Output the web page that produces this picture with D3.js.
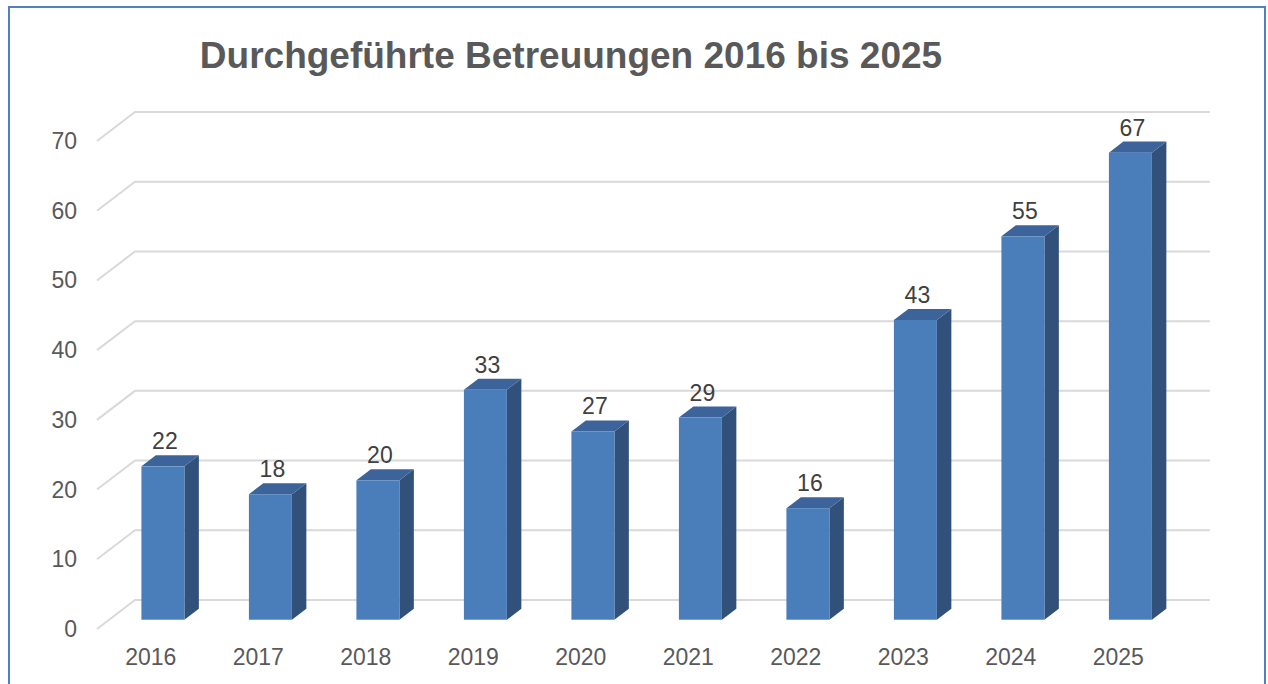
<!DOCTYPE html>
<html>
<head>
<meta charset="utf-8">
<script src="https://cdn.jsdelivr.net/npm/d3@7"></script>
<style>
  body { margin: 0; background: #fff; }
  svg { display: block; font-family: "Liberation Sans", Arial, sans-serif; }
</style>
</head>
<body>
<div id="chart"></div>
<script>
const years = ['2016', '2017', '2018', '2019', '2020', '2021', '2022', '2023', '2024', '2025'];
const betreuungen = [22, 18, 20, 33, 27, 29, 16, 43, 55, 67];
const yTicks = [0, 10, 20, 30, 40, 50, 60, 70];
const title = 'Durchgeführte Betreuungen 2016 bis 2025';

const width = 1268;
const height = 684;

const svg = d3.select('#chart').append('svg')
  .attr('width', width)
  .attr('height', height);

// chart frame
svg.append('rect')
  .attr('x', 9).attr('y', 7)
  .attr('width', 1256).attr('height', 700)
  .attr('fill', 'none')
  .attr('stroke', '#4f81bd')
  .attr('stroke-width', 2);

svg.append('text')
  .attr('x', 571)
  .attr('y', 68)
  .attr('text-anchor', 'middle')
  .attr('font-size', 37)
  .attr('font-weight', 'bold')
  .attr('fill', '#595959')
  .text(title);

// back wall scales, depth goes toward the viewer by (depthX, depthY)
const x = d3.scaleBand().domain(years).range([135, 1210]);
const y = d3.scaleLinear().domain([0, 70]).range([600, 112]);
const depthX = -38, depthY = 29;

// gridlines: back wall + left side diagonal
const grid = svg.append('g').attr('class', 'grid');
yTicks.forEach(t => {
  grid.append('path')
    .attr('d', `M${x.range()[0] + depthX},${y(t) + depthY}L${x.range()[0]},${y(t)}L${x.range()[1]},${y(t)}`)
    .attr('fill', 'none')
    .attr('stroke', '#d9d9d9')
    .attr('stroke-width', 2);
  grid.append('text')
    .attr('x', 77)
    .attr('y', y(t) + depthY)
    .attr('dy', '0.35em')
    .attr('text-anchor', 'end')
    .attr('font-size', 23)
    .attr('fill', '#595959')
    .text(t);
});

// x labels on the front edge
svg.append('g').selectAll('text').data(years).join('text')
  .attr('x', d => x(d) + x.bandwidth() / 2 + depthX)
  .attr('y', 665)
  .attr('text-anchor', 'middle')
  .attr('font-size', 23)
  .attr('fill', '#595959')
  .text(d => d);

// 3D columns
const fFront = 0.68, fBack = 0.30;
const barW = x.bandwidth() * 0.4;
const data = years.map((d, i) => ({ year: d, value: betreuungen[i] }));

const bars = svg.append('g').selectAll('g').data(data).join('g');

bars.each(function(d) {
  const g = d3.select(this);
  const cx = x(d.year) + x.bandwidth() / 2;
  const fx0 = cx - barW / 2 + depthX * fFront;
  const fx1 = fx0 + barW;
  const fy0 = y(0) + depthY * fFront;
  const fy1 = y(d.value) + depthY * fFront;
  const ox = depthX * (fBack - fFront);
  const oy = depthY * (fBack - fFront);

  // side
  g.append('path')
    .attr('d', `M${fx1},${fy0}L${fx1},${fy1}L${fx1 + ox},${fy1 + oy}L${fx1 + ox},${fy0 + oy}Z`)
    .attr('fill', '#31517a');
  // top
  g.append('path')
    .attr('d', `M${fx0},${fy1}L${fx1},${fy1}L${fx1 + ox},${fy1 + oy}L${fx0 + ox},${fy1 + oy}Z`)
    .attr('fill', '#3c639a');
  // front
  g.append('rect')
    .attr('x', fx0).attr('y', fy1)
    .attr('width', barW).attr('height', fy0 - fy1)
    .attr('fill', '#4a7ebb');

  g.append('text')
    .attr('x', fx0 + barW / 2 + 2)
    .attr('y', fy1 + oy - 6)
    .attr('text-anchor', 'middle')
    .attr('font-size', 23)
    .attr('fill', '#404040')
    .text(d.value);
});
</script>
</body>
</html>
